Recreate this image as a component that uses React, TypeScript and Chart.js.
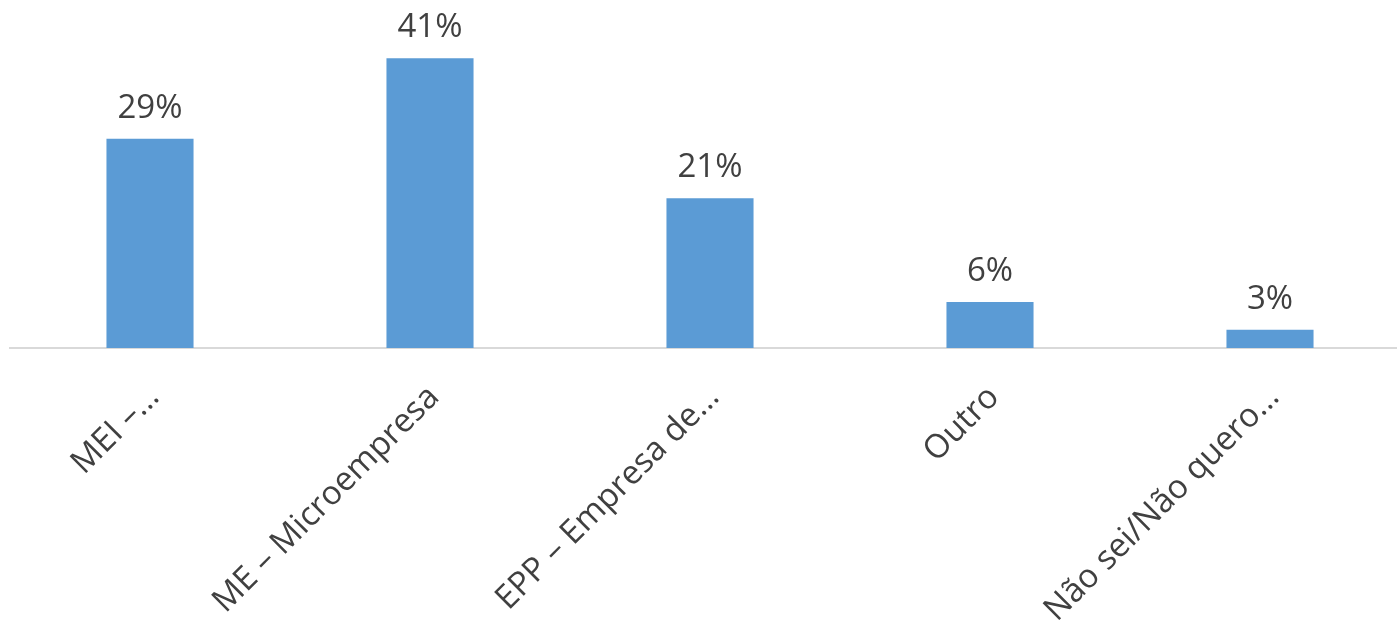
import React, { useEffect, useRef } from "react";
import { Chart, registerables } from "chart.js";

Chart.register(...registerables);

const categories = [
  "MEI –...",
  "ME – Microempresa",
  "EPP – Empresa de...",
  "Outro",
  "Não sei/Não quero...",
];
const values = [29.6, 41, 21.2, 6.5, 2.6];
const valueLabels = ["29%", "41%", "21%", "6%", "3%"];

const FONT = "'Open Sans', 'Liberation Sans', sans-serif";

const labelPlugin = {
  id: "barLabels",
  afterDatasetsDraw(chart: any) {
    const ctx = chart.ctx;
    const meta = chart.getDatasetMeta(0);
    ctx.save();
    ctx.font = `33px ${FONT}`;
    ctx.fillStyle = "#404040";
    ctx.textAlign = "center";
    ctx.textBaseline = "alphabetic";
    meta.data.forEach((bar: any, i: number) => {
      ctx.fillText(valueLabels[i], bar.x, bar.y - 21);
    });
    ctx.restore();
  },
};

export default function App() {
  const ref = useRef<HTMLCanvasElement | null>(null);
  useEffect(() => {
    document.body.style.margin = "0";
    const chart = new Chart(ref.current!, {
      type: "bar",
      data: {
        labels: categories,
        datasets: [
          {
            data: values,
            backgroundColor: "#5B9BD5",
            categoryPercentage: 1,
            barPercentage: 0.311,
          },
        ],
      },
      options: {
        responsive: false,
        animation: false,
        layout: { padding: { left: 10, right: 0, top: 30, bottom: 0 } },
        plugins: { legend: { display: false }, tooltip: { enabled: false } },
        scales: {
          x: {
            grid: { display: false },
            border: { display: true, color: "#d9d9d9", width: 2 },
            ticks: {
              color: "#404040",
              font: { family: FONT, size: 33 },
              minRotation: 45,
              maxRotation: 45,
              autoSkip: false,
              padding: 22,
              labelOffset: 4,
            },
            afterFit: (scale: any) => {
              scale.height = 272;
            },
          },
          y: {
            display: false,
            min: 0,
            max: 45,
          },
        },
      },
      plugins: [labelPlugin],
    });
    return () => chart.destroy();
  }, []);
  return (
    <div style={{ width: 1397, height: 620, overflow: "hidden", background: "#fff" }}>
      <canvas ref={ref} width={1410} height={620} style={{ display: "block" }} />
    </div>
  );
}
